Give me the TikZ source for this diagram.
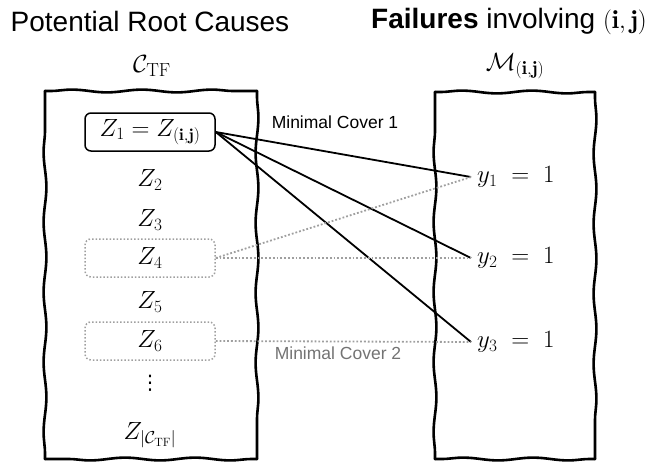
\documentclass[tikz,border=0pt]{standalone}
\usepackage{fontspec}
\setsansfont{Liberation Sans}
\newfontfamily\symfont{DejaVu Sans}
\usetikzlibrary{decorations.pathmorphing}
\tikzset{
  handside/.style={line width=2.6pt, line cap=round, decorate, decoration={snake, amplitude=1.4pt, segment length=70pt, pre length=5pt, post length=5pt}},
  titletext/.style={font=\sffamily\fontsize{28}{32}\selectfont, inner sep=0pt},
  headmath/.style={font=\fontsize{27}{31}\selectfont, inner sep=0pt},
  mathtext/.style={font=\fontsize{24}{28}\selectfont, inner sep=0pt},
  ytext/.style={font=\fontsize{27}{31}\selectfont, inner sep=0pt},
  zbox/.style={mathtext, minimum width=130pt, minimum height=38pt, rounded corners=6pt},
  solidbox/.style={zbox, draw, line width=1.5pt},
  dotbox/.style={zbox, draw=gray!75, line width=1.5pt, dotted},
  coverline/.style={line width=1.8pt},
  dotline/.style={line width=1.8pt, gray!75, dotted},
  covertext/.style={font=\sffamily\fontsize{17.5}{21}\selectfont, inner sep=0pt}
}
\begin{document}
\begin{tikzpicture}[x=1pt,y=-1pt]
\useasboundingbox (0,0) rectangle (656,461);
% columns (hand-drawn look)
\draw[handside] (45,91) -- (257,91);
\draw[handside] (257,91) -- (257,459);
\draw[handside] (257,459) -- (45,459);
\draw[handside] (45,459) -- (45,91);
\draw[handside] (435,92) -- (595,92);
\draw[handside] (595,92) -- (595,459);
\draw[handside] (595,459) -- (435,459);
\draw[handside] (435,459) -- (435,92);
% titles
\node[titletext] (t1) at (150,21) {Potential Root Causes};
\node[titletext] (t2) at (509,21) {\textbf{Failures} involving \fontsize{26}{30}\selectfont$(\mathbf{i},\mathbf{j})$};
\node[headmath] (ctf) at (152,66) {$\mathcal{C}_{\mathrm{TF}}$};
\node[headmath] (mij) at (515,66) {$\mathcal{M}_{(\mathbf{i},\mathbf{j})}$};
% left items
\node[solidbox] (z1) at (150,132) {$Z_1 = Z_{(\mathbf{i},\mathbf{j})}$};
\node[mathtext] (z2) at (150,180) {$Z_2$};
\node[mathtext] (z3) at (150,220) {$Z_3$};
\node[dotbox] (z4) at (150,258) {$Z_4$};
\node[mathtext] (z5) at (150,302) {$Z_5$};
\node[dotbox] (z6) at (150,341) {$Z_6$};
\node[font=\symfont\fontsize{20}{22}\selectfont, inner sep=0pt] (zd) at (150,383) {⋮};
\node[mathtext] (zn) at (150,435) {$Z_{|\mathcal{C}_{\mathrm{TF}}|}$};
% right items
\node[ytext, anchor=west] (y1) at (477,177) {$y_1 \;=\; 1$};
\node[ytext, anchor=west] (y2) at (477,258) {$y_2 \;=\; 1$};
\node[ytext, anchor=west] (y3) at (477,342) {$y_3 \;=\; 1$};
% connectors
\draw[coverline] (z1.east) -- ([xshift=-6pt]y1.west);
\draw[coverline] (z1.east) -- ([xshift=-6pt]y2.west);
\draw[coverline] (z1.east) -- ([xshift=-6pt]y3.west);
\draw[dotline] (z4.east) -- ([xshift=-6pt]y1.west);
\draw[dotline] (z4.east) -- ([xshift=-6pt]y2.west);
\draw[dotline] (z6.east) -- ([xshift=-6pt]y3.west);
% labels
\node[covertext] (mc1) at (335,122) {Minimal Cover 1};
\node[covertext, text=gray!90!black] (mc2) at (338,353) {Minimal Cover 2};
\end{tikzpicture}
\end{document}
